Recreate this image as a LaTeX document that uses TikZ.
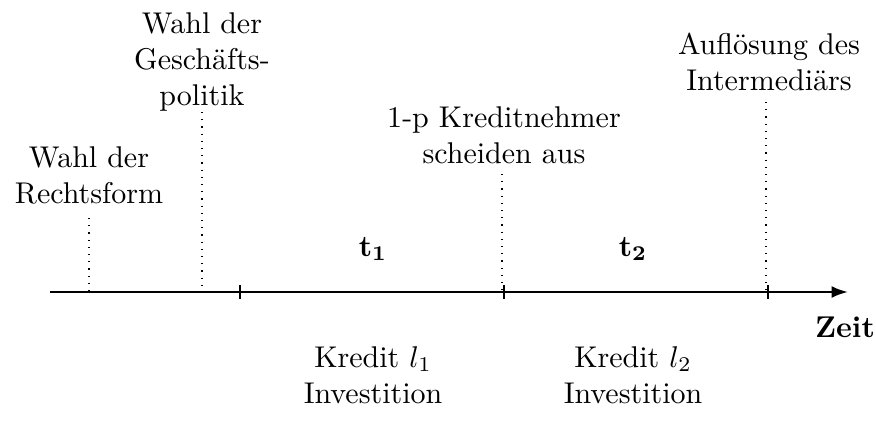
\documentclass[tikz,border=0pt]{standalone}
\usetikzlibrary{arrows.meta}
\begin{document}
\begin{tikzpicture}[x=0.33333pt,y=-0.33333pt,
  lbl/.style={align=center,inner sep=0pt,anchor=north},
  guide/.style={dotted,line width=0.4pt},
  tickmark/.style={line width=0.5pt},
  axis/.style={line width=0.8pt,-{Latex[length=5.5pt,width=4pt]}}]
\useasboundingbox (0,0) rectangle (876,437);
% axis
\coordinate (a0) at (50,292);
\coordinate (a1) at (848,292);
\draw[axis] (a0) -- (a1);
% ticks
\foreach \n/\x in {k1/240,k2/504,k3/768}{
  \coordinate (\n t) at (\x,285);
  \coordinate (\n b) at (\x,299);
  \draw[tickmark] (\n t) -- (\n b);
}
% labels
\node[lbl] (rf) at (89,146) {Wahl der\\Rechtsform};
\node[lbl] (gp) at (202,12) {Wahl der\\Gesch\"afts-\\politik};
\node[lbl] (kn) at (504,106) {1-p Kreditnehmer\\scheiden aus};
\node[lbl] (ai) at (769,32) {Aufl\"osung des\\Intermedi\"ars};
% dotted guides
\coordinate (d1t) at (89,218);  \coordinate (d1b) at (89,292);
\coordinate (d2t) at (202,112); \coordinate (d2b) at (202,292);
\coordinate (d3t) at (502,174); \coordinate (d3b) at (502,292);
\coordinate (d4t) at (766,102); \coordinate (d4b) at (766,292);
\draw[guide] (d1t) -- (d1b);
\draw[guide] (d2t) -- (d2b);
\draw[guide] (d3t) -- (d3b);
\draw[guide] (d4t) -- (d4b);
% period labels
\node (t1) at (373,249) {$\mathbf{t_1}$};
\node (t2) at (633,249) {$\mathbf{t_2}$};
\node (zeit) at (845,327) {\textbf{Zeit}};
\node[lbl] (k1) at (373,346) {Kredit $l_1$\\Investition};
\node[lbl] (k2) at (633,346) {Kredit $l_2$\\Investition};
\end{tikzpicture}
\end{document}
